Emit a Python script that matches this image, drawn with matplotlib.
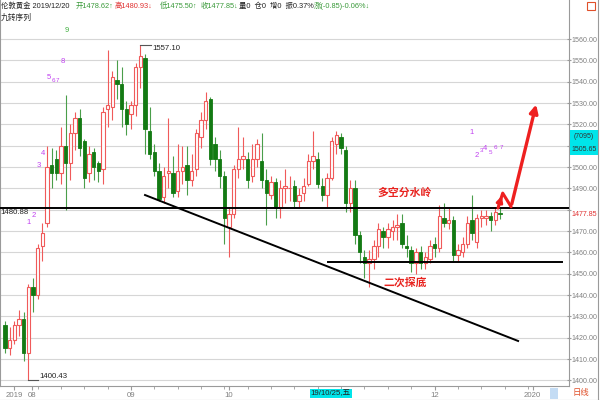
import numpy as np
import matplotlib.pyplot as plt
from matplotlib.patches import Rectangle
from matplotlib.lines import Line2D
from matplotlib.transforms import blended_transform_factory

plt.rcParams['font.family'] = ['Liberation Sans', 'Noto Sans CJK SC', 'DejaVu Sans']
CJK = ['Noto Sans CJK SC', 'DejaVu Sans']

#daily candles of london gold, index 0 = 2019/08/01, last = 2019/12/20
idx = np.arange(-5, 102)
opens = [1426, 1415, 1419, 1426, 1429,
         1413, 1444, 1440, 1463, 1474, 1501, 1504, 1497, 1510, 1502, 1516, 1523,
         1512, 1497, 1507, 1502, 1499, 1527, 1528, 1541, 1539, 1527,
         1525, 1529, 1547, 1551, 1517, 1507, 1498, 1486, 1497, 1497, 1489, 1498,
         1501, 1494, 1499, 1514, 1522, 1532, 1511, 1504, 1496,
         1472, 1478, 1499, 1504, 1504, 1496, 1504, 1503, 1494, 1487, 1493, 1481,
         1490, 1490, 1491, 1484, 1488, 1492, 1503, 1504, 1491, 1487, 1495,
         1511, 1514, 1508, 1483, 1490, 1468, 1458, 1455, 1457, 1463, 1470, 1467,
         1470, 1472, 1474, 1463, 1461, 1455, 1460, 1455, 1457,
         1464, 1462, 1476, 1474, 1475, 1459, 1460, 1464, 1475, 1465, 1476, 1476,
         1477, 1475, 1478.62]
highs = [1428, 1425, 1428, 1433, 1432,
         1445, 1448, 1464, 1474, 1510, 1509, 1508, 1519, 1534, 1520, 1526, 1527,
         1513, 1510, 1509, 1503, 1528, 1555, 1545, 1550, 1547, 1531,
         1531, 1549, 1557.10, 1553, 1528, 1511, 1502, 1500, 1523, 1505, 1511, 1510,
         1510, 1506, 1518, 1526, 1535, 1533, 1514, 1508, 1498,
         1481, 1501, 1519, 1514, 1507, 1511, 1513, 1516, 1499, 1496, 1495, 1494,
         1499, 1496, 1494, 1490, 1495, 1506, 1517, 1507, 1495, 1497, 1514,
         1517, 1516, 1510, 1494, 1494, 1470, 1461, 1461, 1466, 1474, 1472, 1474,
         1475, 1478, 1478, 1468, 1463, 1462, 1463, 1460, 1466,
         1467, 1482, 1483, 1481, 1477, 1464, 1467, 1477, 1487, 1478, 1480, 1480,
         1479, 1481, 1480.93]
lows = [1413, 1412, 1417, 1421, 1409,
        1400.43, 1432, 1438, 1456, 1472, 1490, 1494, 1492, 1480, 1494, 1508, 1505,
        1490, 1493, 1494, 1493, 1492, 1519, 1522, 1532, 1519, 1515,
        1518, 1524, 1537, 1506, 1504, 1496, 1484, 1483, 1490, 1486, 1486, 1492,
        1487, 1491, 1496, 1509, 1518, 1501, 1498, 1490, 1464,
        1458, 1476, 1495, 1499, 1490, 1493, 1500, 1490, 1473, 1485, 1476, 1476,
        1483, 1484, 1481, 1481, 1484, 1491, 1499, 1490, 1484, 1481, 1494,
        1506, 1506, 1479, 1479, 1464, 1455, 1448, 1444, 1452, 1458, 1462, 1462,
        1466, 1466, 1462, 1458, 1451, 1450, 1452, 1452, 1455,
        1458, 1460, 1472, 1471, 1456, 1456, 1458, 1462, 1466, 1462, 1472, 1473,
        1470, 1473, 1475.50]
closes = [1415, 1419, 1426, 1429, 1413,
          1444, 1440, 1462, 1469, 1500, 1497, 1497, 1510, 1502, 1516, 1523, 1509,
          1495, 1506, 1500, 1498, 1526, 1529, 1542, 1539, 1527, 1520,
          1529, 1547, 1552, 1518, 1506, 1498, 1485, 1496, 1498, 1488, 1498, 1500,
          1494, 1498, 1516, 1522, 1531, 1504, 1504, 1496, 1476,
          1478, 1499, 1504, 1505, 1494, 1504, 1511, 1494, 1488, 1493, 1481, 1490,
          1491, 1490.3, 1484, 1487, 1491, 1503, 1505, 1492, 1487, 1495, 1512,
          1515, 1509, 1483, 1490, 1468, 1460, 1455, 1457, 1463, 1471, 1467, 1471,
          1472, 1473, 1464, 1462, 1455, 1460, 1455, 1458, 1463,
          1462, 1477, 1474, 1475, 1459, 1461, 1464, 1474, 1469, 1476, 1477, 1477,
          1475, 1479, 1477.85]

#price levels and drawn lines
level_top = 1480.88
level_low = 1455.5
level_low_x = [64.1, 114.3]
trend_x = [25.0, 104.9]
trend_y = [1486.9, 1418.5]
arrow_x = [100.6, 101.6, 103.4, 108.9]
arrow_y = [1480.8, 1487.8, 1481.4, 1530.6]
last_price = 1477.85

#nine-turn sequence marks
seq_left_x = [0.15, 1.2, 2.3, 3.2, 4.3, 5.3, 6.2, 7.3, 8.2]
seq_left_y = [1473.8, 1477.1, 1500.9, 1506.4, 1541.8, 1540.5, 1540.5, 1549.7, 1564.1]
seq_right_x = [95.0, 96.0, 97.1, 97.9, 99.0, 100.1, 101.3]
seq_right_y = [1516.0, 1505.6, 1508.0, 1508.5, 1507.0, 1509.4, 1509.4]

#axis ticks (1480 and 1510 labels sit under the price boxes)
y_ticks = list(range(1400, 1561, 10))
hidden_ticks = [1480, 1510]
month_pos = [-3, 0.8, 22, 43, 87, 108]
month_lab = ['2019', '08', '09', '10', '12', '2020']

opens = np.array(opens)
closes = np.array(closes)
highs = np.array(highs)
lows = np.array(lows)

RED = '#f05a5a'
GREEN = '#137a13'
GRID = '#d6d6d6'
AXC = '#9a9a9a'
PURPLE = '#c040f0'

fig = plt.figure(figsize=(6, 4), dpi=100)
ax = fig.add_axes([0.0, 14/400, 569/600, 386/400])
ax.set_xlim(-6.06, 115.8)
ax.set_ylim(1397.4, 1578.3)

#candles
up = closes >= opens
body_lo = np.minimum(opens, closes)
body_h = np.maximum(np.abs(closes - opens), 0.35)
ax.vlines(idx[up], lows[up], highs[up], color=RED, lw=0.8, zorder=2)
ax.vlines(idx[~up], lows[~up], highs[~up], color='#4a9e4a', lw=0.8, zorder=2)
ax.bar(idx[up], body_h[up], bottom=body_lo[up], width=0.72, facecolor='white',
       edgecolor=RED, linewidth=0.8, zorder=3)
ax.bar(idx[~up], body_h[~up], bottom=body_lo[~up], width=0.72, facecolor=GREEN,
       edgecolor=GREEN, linewidth=0.6, zorder=3)

#drawn lines
ax.axhline(level_top, color='black', lw=1.4, zorder=4)
ax.plot(level_low_x, [level_low, level_low], color='black', lw=1.4, zorder=4)
ax.plot(trend_x, trend_y, color='black', lw=1.4, zorder=4)

#red arrow
ax.plot(arrow_x[:3], arrow_y[:3], color='#ee2020', lw=2.2, zorder=5, solid_capstyle='round')
ax.annotate('', xy=(arrow_x[1], arrow_y[1]), xytext=(arrow_x[0], arrow_y[0]),
            arrowprops=dict(arrowstyle='-|>', color='#ee2020', lw=2.0, mutation_scale=9), zorder=5)
ax.annotate('', xy=(arrow_x[3], arrow_y[3]), xytext=(arrow_x[2], arrow_y[2]),
            arrowprops=dict(arrowstyle='-|>', color='#ee2020', lw=2.4, mutation_scale=12), zorder=5)

#text on the chart
ax.text(80.5, 1487.8, '多空分水岭', color='#e8231f', fontsize=7.8, fontweight='bold',
        ha='center', va='center', family=CJK, zorder=6)
ax.text(80.7, 1445.7, '二次探底', color='#e8231f', fontsize=7.8, fontweight='bold',
        ha='center', va='center', family=CJK, zorder=6)

#high / low marks
ax.plot([24, 26.2], [1557.10, 1557.10], color='#555555', lw=0.8)
ax.text(26.5, 1557.4, '1557.10', fontsize=5.6, color='#222222', va='top', ha='left')
ax.plot([0, 2.0], [1400.43, 1400.43], color='#555555', lw=0.8)
ax.text(2.3, 1400.2, '1400.43', fontsize=5.6, color='#222222', va='bottom', ha='left')
ax.text(-5.9, level_top - 0.6, '1480.88', fontsize=5.6, color='#222222', va='top', ha='left')

#sequence numbers
sizes_left = [5.5, 5.5, 5.5, 5.5, 5.5, 4.5, 4.5, 5.5, 5.5]
for i, (x, y) in enumerate(zip(seq_left_x, seq_left_y)):
    c = '#40b040' if i == 8 else PURPLE
    ax.text(x, y, str(i + 1), color=c, fontsize=sizes_left[i], ha='center', va='center')
sizes_right = [5.5, 5.5, 4.5, 5.5, 4.5, 4.5, 4.5]
for i, (x, y) in enumerate(zip(seq_right_x, seq_right_y)):
    ax.text(x, y, str(i + 1), color=PURPLE, fontsize=sizes_right[i], ha='center', va='center')

#y axis on the right
ax.set_yticks(y_ticks)
ax.set_yticklabels(['' if v in hidden_ticks else f'{v:.2f}' for v in y_ticks])
ax.yaxis.tick_right()
ax.tick_params(axis='y', direction='inout', length=3, pad=0.5, labelsize=5.1,
               labelcolor='#808080', color=AXC)
ax.grid(axis='y', color=GRID, lw=0.8, zorder=0)
ax.set_axisbelow(True)

#x axis
ax.set_xticks(month_pos)
ax.set_xticklabels(month_lab)
ax.set_xticks([i for i in range(2, 112, 5)], minor=True)
ax.tick_params(axis='x', which='major', direction='out', length=3, pad=1.5,
               labelsize=5.6, labelcolor='#808080', color=AXC)
ax.tick_params(axis='x', which='minor', direction='out', length=2, color=AXC)

for side in ['left', 'right', 'bottom']:
    ax.spines[side].set_color(AXC)
    ax.spines[side].set_linewidth(0.8)
ax.spines['top'].set_visible(False)

#price labels on the right axis
tr = blended_transform_factory(ax.transAxes, ax.transData)
ax.text(1.004, last_price, f'{last_price:.2f}', transform=tr, color='#e03030',
        fontsize=5.1, va='center', ha='left', clip_on=False)
fig.patches.append(Rectangle((570/600, 1 - 155/400), 28/600, 25/400,
                             transform=fig.transFigure, facecolor='#00e5ea', edgecolor='none'))
fig.text(584/600, 1 - 136/400, '(7095)', fontsize=5.0, color='#333333', ha='center', va='center')
fig.text(584/600, 1 - 149/400, '1505.65', fontsize=5.0, color='#333333', ha='center', va='center')

#date box and bottom bar
trx = blended_transform_factory(ax.transData, ax.transAxes)
ax.text(60.5, -0.019, '19/10/25,五', transform=trx, fontsize=5.6, color='#222222',
        ha='left', va='center', family=['Liberation Sans', 'Noto Sans CJK SC'], clip_on=False,
        bbox=dict(boxstyle='square,pad=0.15', facecolor='#00e5ea', edgecolor='none'))
fig.patches.append(Rectangle((550/600, 1 - 399/400), 8/600, 11/400,
                             transform=fig.transFigure, facecolor='#c4dcf4', edgecolor='none'))
fig.text(581/600, 1 - 393/400, '日线', fontsize=6, color='#e0502a', ha='center', va='center',
         family=CJK)
fig.add_artist(Line2D([598/600, 598/600], [0, 1], transform=fig.transFigure, color=AXC, lw=0.8))
fig.add_artist(Line2D([0, 1], [0.5/400, 0.5/400], transform=fig.transFigure, color=AXC, lw=0.8))

#top-right icon
fig.patches.append(Rectangle((587/600, 1 - 10/400), 8/600, 8/400, transform=fig.transFigure,
                             facecolor='none', edgecolor='#e0502a', lw=0.8))

#header pieces at their screen positions
header = [('伦敦黄金 2019/12/20', 1, '#222222'),
          ('开1478.62↑', 76, '#3a9a3a'),
          ('高1480.93↓', 115, '#e03030'),
          ('低1475.50↑', 160, '#3a9a3a'),
          ('收1477.85↓', 201, '#3a9a3a'),
          ('量0  仓0  增0  振0.37%', 239, '#222222'),
          ('涨(-0.85)-0.06%↓', 314, '#3a9a3a')]
for s, x, c in header:
    fig.text(x/600, 1 - 6/400, s, fontsize=5.3, color=c, ha='left', va='center',
             family=['Liberation Sans', 'Noto Sans CJK SC', 'DejaVu Sans'])
fig.text(1/600, 1 - 17.5/400, '九转序列', fontsize=5.6, color='#222222', ha='left',
         va='center', family=CJK)

fig.savefig('out.png', dpi=100)
